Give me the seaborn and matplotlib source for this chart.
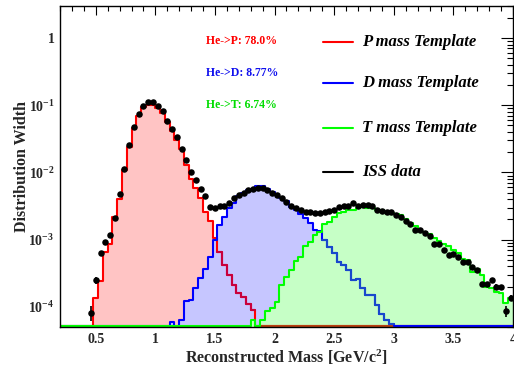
import numpy as np
import pandas as pd
import matplotlib
matplotlib.use("Agg")
import matplotlib.pyplot as plt
import seaborn as sns

# Binatge en massa reconstruida: 0.2 - 4.0 GeV/c2, amplada 0.04 (95 bins)
bin_lo, bin_hi, bin_w = 0.2, 4.0, 0.04

# Templates (95 bins)
p_template = [
    0, 0, 0, 0, 0, 0, 0, 1.35e-4, 2.4e-4, 6.6e-4,
    8.7e-4, 2.2e-3, 4.0e-3, 0.011, 0.024, 0.046, 0.069, 0.095, 0.102, 0.102,
    0.091, 0.076, 0.057, 0.041, 0.030, 0.022, 0.013, 8.1e-3, 5.8e-3, 4.2e-3,
    2.6e-3, 1.9e-3, 1.05e-3, 6.6e-4, 4.2e-4, 2.95e-4, 2.1e-4, 1.6e-4, 1.4e-4, 1.1e-4,
    8.9e-5] + [0] * 54

d_template = [0] * 23 + [
    6.0e-5, 0, 6.3e-5, 1.2e-4, 1.25e-4, 1.9e-4, 2.7e-4, 3.6e-4, 5.5e-4, 1.0e-3,
    1.65e-3, 2.2e-3, 2.95e-3, 3.5e-3, 4.4e-3, 4.9e-3, 5.5e-3, 5.75e-3, 6.2e-3, 6.2e-3,
    5.75e-3, 5.1e-3, 4.6e-3, 4.2e-3, 3.7e-3, 3.1e-3, 2.8e-3, 2.4e-3, 2.1e-3, 1.74e-3,
    1.41e-3, 1.35e-3, 9.8e-4, 7.8e-4, 6.3e-4, 4.7e-4, 4.2e-4, 3.5e-4, 2.5e-4, 2.6e-4,
    1.9e-4, 1.5e-4, 1.5e-4, 1.07e-4, 7.9e-5, 6.3e-5, 5.6e-5] + [0] * 25

t_template = [0] * 40 + [
    6.3e-5, 0, 6.3e-5, 8.7e-5, 9.5e-5, 1.17e-4, 2.1e-4, 2.8e-4, 3.5e-4, 4.8e-4,
    5.6e-4, 8.1e-4, 9.3e-4, 1.17e-3, 1.32e-3, 1.7e-3, 1.8e-3, 2.2e-3, 2.45e-3, 2.6e-3,
    2.75e-3, 2.8e-3, 2.95e-3, 3.1e-3, 3.0e-3, 2.95e-3, 2.8e-3, 2.75e-3, 2.6e-3, 2.5e-3,
    2.4e-3, 2.3e-3, 2.0e-3, 1.74e-3, 1.6e-3, 1.4e-3, 1.32e-3, 1.2e-3, 1.07e-3, 9.5e-4,
    8.5e-4, 7.9e-4, 6.9e-4, 6.3e-4, 5.2e-4, 5.0e-4, 3.3e-4, 3.7e-4, 2.95e-4, 2.0e-4,
    1.9e-4, 1.66e-4, 1.58e-4, 1.12e-4, 1.35e-4]

# Dades ISS (bins 6 a 94)
data_first_bin = 6
iss_data = [
    8.1e-5, 2.5e-4, 6.3e-4, 9.3e-4, 1.17e-3, 2.1e-3, 4.8e-3, 0.0112, 0.026, 0.048,
    0.074, 0.098, 0.110, 0.110, 0.098, 0.081, 0.059, 0.044, 0.034, 0.022,
    0.0155, 0.0102, 0.0076, 0.0056, 0.0045, 0.0031, 0.0030, 0.0032, 0.0032, 0.0035,
    0.0042, 0.0046, 0.0050, 0.0054, 0.0056, 0.0058, 0.0058, 0.0054, 0.0050, 0.0046,
    0.0042, 0.0036, 0.0032, 0.0030, 0.0028, 0.0026, 0.0026, 0.0025, 0.0025, 0.0026,
    0.0027, 0.0028, 0.0031, 0.0032, 0.0032, 0.0035, 0.0032, 0.0033, 0.0033, 0.0032,
    0.0028, 0.0027, 0.0026, 0.0026, 0.0023, 0.0022, 0.0019, 0.0017, 0.0014, 0.0014,
    1.26e-3, 1.15e-3, 8.5e-4, 8.7e-4, 7.1e-4, 5.9e-4, 6.2e-4, 5.5e-4, 4.7e-4, 4.7e-4,
    3.9e-4, 3.5e-4, 2.2e-4, 2.2e-4, 2.5e-4, 2.0e-4, 1.95e-4, 8.7e-5, 1.35e-4]
# error relatiu de cada punt
iss_relerr = [
    0.25, 0.12, 0.06, 0.05, 0.04, 0.03, 0.02, 0.01, 0.01, 0.01,
    0.01, 0.01, 0.01, 0.01, 0.01, 0.01, 0.01, 0.01, 0.01, 0.01,
    0.01, 0.01, 0.02, 0.02, 0.02, 0.02, 0.02, 0.02, 0.02, 0.02,
    0.02, 0.02, 0.02, 0.02, 0.02, 0.02, 0.02, 0.02, 0.02, 0.02,
    0.02, 0.02, 0.02, 0.02, 0.02, 0.02, 0.02, 0.02, 0.02, 0.02,
    0.02, 0.02, 0.02, 0.02, 0.02, 0.02, 0.02, 0.02, 0.02, 0.02,
    0.02, 0.02, 0.02, 0.02, 0.02, 0.02, 0.02, 0.02, 0.03, 0.03,
    0.03, 0.03, 0.04, 0.04, 0.04, 0.05, 0.05, 0.05, 0.05, 0.05,
    0.06, 0.06, 0.08, 0.08, 0.08, 0.08, 0.08, 0.20, 0.10]

fractions = ["He->P: 78.0%", "He->D: 8.77%", "He->T: 6.74%"]
template_labels = ["P mass Template", "D mass Template", "T mass Template", "ISS data"]
x_ticks = [0.5, 1.0, 1.5, 2.0, 2.5, 3.0, 3.5, 4.0]
x_ticklabels = ["0.5", "1", "1.5", "2", "2.5", "3", "3.5", "4"]
y_ticks = [1e-4, 1e-3, 1e-2, 1e-1, 1.0]
y_ticklabels = ["$10^{-4}$", "$10^{-3}$", "$10^{-2}$", "$10^{-1}$", "1"]

# colors estil ROOT (linia, farciment)
c_p, c_d, c_t = "#ff0000", "#0000ff", "#00ff00"
f_p, f_d, f_t = "#ffc4c4", "#c6c6ff", "#c6ffc6"
text_colors = ["#ff0000", "#1010ee", "#00dd00"]
# to de les linies quan queden sota el farciment d'un altre template
c_p_under_d, c_p_under_t, c_d_under_t = "#c8003c", "#b84010", "#1848cc"

# -----------------------------------------------------------------
sns.set_style("white")
plt.rcParams["font.family"] = ["Liberation Serif", "DejaVu Serif"]
plt.rcParams["font.weight"] = "bold"
plt.rcParams["axes.labelweight"] = "bold"
plt.rcParams["mathtext.fontset"] = "custom"
plt.rcParams["mathtext.rm"] = "Liberation Serif:bold"
plt.rcParams["mathtext.it"] = "Liberation Serif:bold:italic"
plt.rcParams["mathtext.bf"] = "Liberation Serif:bold"

n_bins = len(p_template)
centers = bin_lo + bin_w * (np.arange(n_bins) + 0.5)
y_floor = 5.2e-5  # els bins buits es dibuixen a la vora inferior, com ROOT


def hist_df(vals, k0=0, k1=None):
    # DataFrame amb els bins [k0, k1) d'un template
    k1 = len(vals) if k1 is None else k1
    w = np.maximum(np.array(vals[k0:k1], dtype=float), y_floor)
    return pd.DataFrame({"mass": centers[k0:k1], "w": w})


def step_line(vals, color, k0=0, k1=None):
    k1 = len(vals) if k1 is None else k1
    sns.histplot(data=hist_df(vals, k0, k1), x="mass", weights="w", binwidth=bin_w,
                 binrange=(bin_lo + k0 * bin_w, bin_lo + k1 * bin_w),
                 element="step", fill=False, color=color, linewidth=1.5, ax=ax)


fig = plt.figure(figsize=(5.14, 3.69), dpi=100)
ax = fig.add_axes([0.1167, 0.1138, 0.8813, 0.8699])

# primer els farciments (opacs, en ordre P, D, T)
for vals, fcol in [(p_template, f_p), (d_template, f_d), (t_template, f_t)]:
    sns.histplot(data=hist_df(vals), x="mass", weights="w", binwidth=bin_w,
                 binrange=(bin_lo, bin_hi), element="step", fill=True,
                 color=fcol, alpha=1.0, linewidth=0, ax=ax)

# despres les linies per sobre
p_arr, d_arr, t_arr = np.array(p_template), np.array(d_template), np.array(t_template)
k_pd = int(np.argmax((d_arr >= p_arr) & (p_arr > 0) & (np.arange(n_bins) > 25)))
k_p_end = int(np.nonzero(p_arr)[0][-1]) + 1
k_dt = int(np.argmax((t_arr > d_arr) & (np.arange(n_bins) > 45)))
k_d_end = int(np.nonzero(d_arr)[0][-1]) + 1

step_line(p_template, c_p)
step_line(p_template, c_p_under_d, k_pd, k_p_end)
step_line(p_template, c_p_under_t, k_p_end, n_bins)
step_line(d_template, c_d)
step_line(d_template, c_d_under_t, k_dt, k_d_end)
step_line(t_template, c_t)

data_x = centers[data_first_bin:data_first_bin + len(iss_data)]
data_y = np.array(iss_data)
ax.errorbar(data_x, data_y, yerr=data_y * np.array(iss_relerr), fmt="none",
            ecolor="black", elinewidth=1.2, capsize=0, zorder=4)
sns.scatterplot(x=data_x, y=data_y, color="black", s=22, linewidth=0,
                zorder=5, ax=ax, legend=False)

ax.set_yscale("log")
ax.set_xlim(bin_lo, bin_hi)
ax.set_ylim(5.0e-5, 3.0)

ax.set_xticks(x_ticks)
ax.set_xticklabels(x_ticklabels)
ax.xaxis.set_minor_locator(matplotlib.ticker.MultipleLocator(0.1))
ax.set_yticks(y_ticks)
ax.set_yticklabels(y_ticklabels)
ax.yaxis.set_minor_locator(matplotlib.ticker.LogLocator(subs=np.arange(2, 10)))
ax.yaxis.set_minor_formatter(matplotlib.ticker.NullFormatter())

ax.tick_params(which="both", direction="in", top=True, right=True, color="black")
ax.tick_params(axis="x", which="major", length=6.5, width=0.8, pad=4, labelsize=10)
ax.tick_params(axis="x", which="minor", length=3.3, width=0.8)
ax.tick_params(axis="y", which="major", length=8.5, width=0.8, pad=4, labelsize=10)
ax.tick_params(axis="y", which="minor", length=4.5, width=0.8)
for sp in ax.spines.values():
    sp.set_color("black")
    sp.set_linewidth(1.0)

ax.set_xlabel("Reconstructed Mass [GeV/c$^{2}$]", fontsize=11.5,
              fontweight="bold", va="center")
ax.xaxis.set_label_coords(0.5, -0.093)
ax.set_ylabel("Distribution Width", fontsize=11.5, fontweight="bold", va="center")
ax.yaxis.set_label_coords(-0.083, 0.5)

# percentatges
for txt, col, yy in zip(fractions, text_colors, [0.891, 0.790, 0.692]):
    ax.text(0.322, yy, txt, color=col, fontsize=8.5, fontweight="bold",
            transform=ax.transAxes, ha="left", va="center")

# llegenda feta a ma
for lab, col, yy in zip(template_labels, [c_p, c_d, c_t, "black"],
                        [0.889, 0.759, 0.621, 0.484]):
    ax.plot([0.581, 0.647], [yy, yy], color=col, lw=1.5, transform=ax.transAxes)
    ax.text(0.667, yy, lab, fontsize=12, style="italic", fontweight="bold",
            transform=ax.transAxes, ha="left", va="center", color="black")

fig.savefig("out.png", dpi=100)
